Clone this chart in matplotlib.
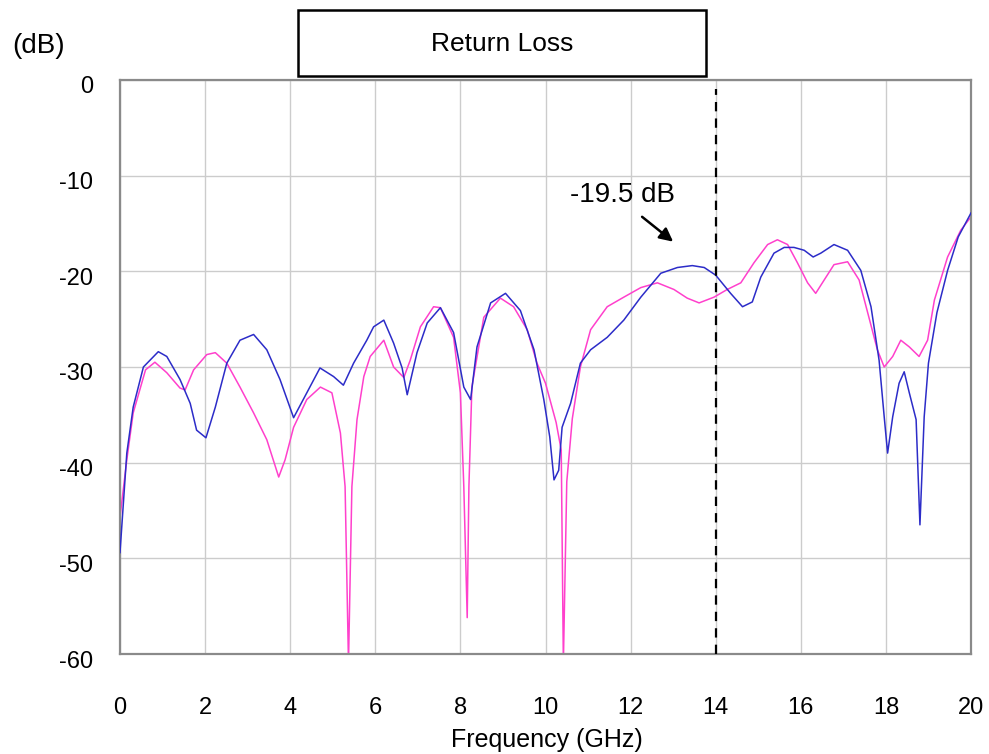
import matplotlib
matplotlib.use('Agg')
import matplotlib.pyplot as plt
from matplotlib.patches import Rectangle
from matplotlib.transforms import ScaledTranslation

# ---- measured return loss traces (GHz, dB) ----
blue_f = [0.0, 0.16, 0.31, 0.55, 0.9, 1.1, 1.41, 1.65, 1.8, 2.02, 2.24, 2.51, 2.82, 3.14,
          3.45, 3.76, 4.08, 4.39, 4.7, 5.02, 5.25, 5.49, 5.8, 5.96, 6.2, 6.43, 6.63, 6.75,
          6.98, 7.22, 7.53, 7.84, 8.08, 8.24, 8.39, 8.71, 9.06, 9.41, 9.73, 9.96, 10.1,
          10.2, 10.31, 10.39, 10.59, 10.82, 11.06, 11.45, 11.84, 12.24, 12.71, 13.1, 13.45,
          13.73, 14.0, 14.35, 14.63, 14.86, 15.06, 15.37, 15.61, 15.84, 16.08, 16.29, 16.47,
          16.78, 17.1, 17.41, 17.65, 17.84, 17.96, 18.04, 18.16, 18.31, 18.43, 18.55, 18.71,
          18.8, 18.9, 19.0, 19.2, 19.45, 19.7, 20.0]
blue_db = [-49.4, -39.0, -34.2, -30.0, -28.4, -28.9, -31.3, -33.8, -36.6, -37.4, -34.2, -29.6,
           -27.2, -26.6, -28.2, -31.3, -35.3, -32.7, -30.1, -31.0, -31.9, -29.6, -27.2, -25.8,
           -25.1, -27.5, -30.1, -32.9, -28.5, -25.4, -23.8, -26.4, -32.1, -33.4, -27.9, -23.3,
           -22.3, -24.1, -28.2, -33.4, -37.3, -41.8, -40.8, -36.3, -33.8, -29.6, -28.2, -26.9,
           -25.1, -22.7, -20.2, -19.6, -19.4, -19.6, -20.4, -22.3, -23.7, -23.2, -20.6, -18.1,
           -17.5, -17.5, -17.8, -18.5, -18.1, -17.2, -17.8, -19.9, -23.7, -29.3, -35.2, -39.0,
           -35.2, -31.7, -30.5, -32.7, -35.5, -46.5, -35.2, -29.6, -24.3, -19.9, -16.4, -13.9]

pink_f = [0.0, 0.16, 0.31, 0.6, 0.82, 1.1, 1.41, 1.53, 1.73, 2.04, 2.24, 2.51, 2.82, 3.14,
          3.45, 3.73, 3.88, 4.08, 4.39, 4.71, 4.98, 5.18, 5.29, 5.37, 5.45, 5.57, 5.73, 5.88,
          6.2, 6.43, 6.67, 6.82, 7.06, 7.37, 7.53, 7.84, 8.0, 8.08, 8.16, 8.2, 8.27, 8.55,
          8.94, 9.25, 9.57, 9.8, 10.0, 10.25, 10.37, 10.42, 10.5, 10.63, 10.82, 11.06, 11.45,
          11.84, 12.24, 12.63, 13.02, 13.33, 13.61, 13.96, 14.27, 14.59, 14.9, 15.22, 15.45,
          15.69, 15.92, 16.16, 16.35, 16.55, 16.78, 17.1, 17.37, 17.6, 17.8, 17.96, 18.16,
          18.35, 18.55, 18.78, 18.98, 19.14, 19.45, 19.76, 20.0]
pink_db = [-45.7, -39.7, -34.8, -30.3, -29.5, -30.6, -32.2, -32.4, -30.3, -28.7, -28.5, -29.6,
           -32.1, -34.8, -37.6, -41.5, -39.7, -36.3, -33.4, -32.1, -32.7, -36.9, -42.5, -61.0,
           -42.5, -35.5, -31.0, -28.9, -27.2, -30.0, -31.1, -29.3, -25.8, -23.7, -23.8, -26.9,
           -32.7, -42.5, -56.2, -42.5, -32.1, -24.8, -22.8, -23.7, -26.1, -29.6, -31.7, -35.8,
           -38.7, -61.0, -42.0, -35.4, -30.0, -26.1, -23.7, -22.7, -21.7, -21.2, -21.9, -22.8,
           -23.3, -22.7, -21.9, -21.2, -19.1, -17.2, -16.7, -17.2, -19.1, -21.2, -22.3, -20.9,
           -19.3, -19.0, -20.9, -24.8, -28.2, -30.0, -28.9, -27.2, -27.9, -28.9, -27.2, -23.0,
           -18.5, -15.7, -14.3]

marker_f = 14.0
note_text = '-19.5 dB'
x_ticks = list(range(0, 21, 2))
y_ticks = list(range(-60, 1, 10))

plt.rcParams['font.family'] = ['Liberation Sans', 'DejaVu Sans']

fig = plt.figure(figsize=(9.89, 7.54), dpi=100)
ax = fig.add_axes([120 / 989, 100 / 754, 851 / 989, 574 / 754])

ax.plot(blue_f, blue_db, color='#2c2cc8', lw=1.1, zorder=3)
ax.plot(pink_f, pink_db, color='#ff40cc', lw=1.1, zorder=2)
ax.axvline(marker_f, ymin=0, ymax=0.985, color='black', lw=1.6, dashes=(4.2, 3.2), zorder=4)

ax.set_xlim(0, 20)
ax.set_ylim(-60, 0)
ax.set_xticks(x_ticks)
ax.set_yticks(y_ticks)
ax.set_xticklabels([str(t) for t in x_ticks], fontsize=17)
ax.set_yticklabels([str(t) for t in y_ticks], fontsize=17)
ax.tick_params(axis='both', length=0)
ax.tick_params(axis='x', pad=31)
ax.tick_params(axis='y', pad=19.5)
# y numbers sit a few pixels below their grid lines
shift = ScaledTranslation(0, -5 / 100, fig.dpi_scale_trans)
for lab in ax.get_yticklabels():
    lab.set_transform(lab.get_transform() + shift)

ax.grid(True, color='#cccccc', lw=1.0)
ax.set_axisbelow(True)
for s in ax.spines.values():
    s.set_color('#8a8a8a')
    s.set_linewidth(1.6)

fig.text(547 / 989, 1 - 740 / 754, 'Frequency (GHz)', fontsize=18,
         ha='center', va='center')

# annotation near the peak
ax.text(11.8, -12.0, note_text, fontsize=20, ha='center', va='center')
ax.annotate('', xy=(13.0, -16.9), xytext=(12.27, -14.3),
            arrowprops=dict(arrowstyle='-|>,head_length=0.8,head_width=0.4',
                            color='black', lw=1.8, shrinkA=0, shrinkB=0))

# title box and unit label above the axes
fig.patches.append(Rectangle((298 / 989, 1 - 76 / 754), 408 / 989, 66 / 754,
                             transform=fig.transFigure, fill=False,
                             edgecolor='black', lw=1.8))
fig.text(502 / 989, 1 - 44 / 754, 'Return Loss', fontsize=19, ha='center', va='center')
fig.text(38.5 / 989, 1 - 46 / 754, '(dB)', fontsize=20, ha='center', va='center')

fig.savefig('out.png', dpi=100)
